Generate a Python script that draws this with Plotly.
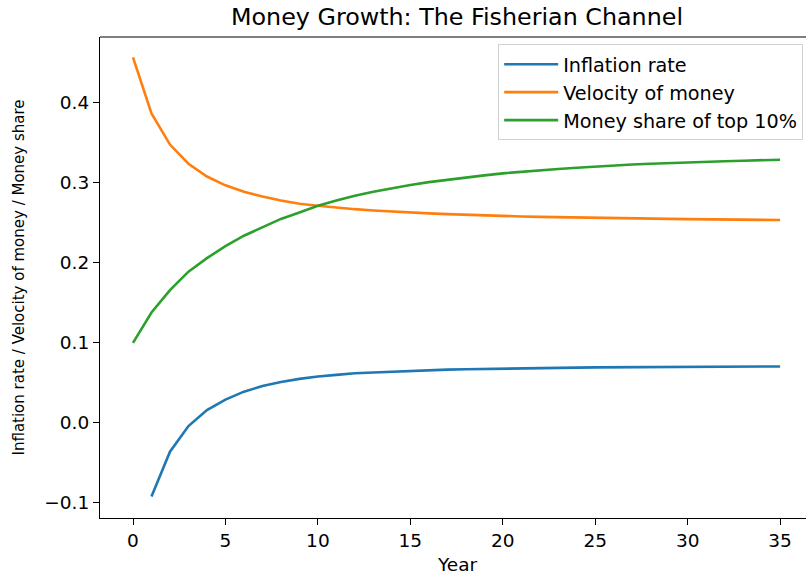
import plotly.graph_objects as go

# Simulation output: yearly path after a money-growth shock
years = list(range(36))

inflation_rate = [None, -0.092, -0.036, -0.004, 0.016, 0.029, 0.039, 0.046, 0.051, 0.055,
                  0.058, 0.060, 0.062, 0.063, 0.064, 0.065, 0.066, 0.0665, 0.067, 0.0675,
                  0.068, 0.0683, 0.0686, 0.0689, 0.0691, 0.0693, 0.0695, 0.0697, 0.0698, 0.0699,
                  0.0700, 0.0701, 0.0702, 0.0703, 0.0704, 0.0705]

velocity_of_money = [0.457, 0.387, 0.348, 0.324, 0.308, 0.297, 0.289, 0.283, 0.278, 0.274,
                     0.2715, 0.269, 0.2672, 0.2656, 0.2642, 0.263, 0.2619, 0.261, 0.2601, 0.2594,
                     0.2587, 0.2581, 0.2576, 0.2571, 0.2567, 0.2563, 0.2559, 0.2556, 0.2553, 0.255,
                     0.2547, 0.2545, 0.2542, 0.254, 0.2538, 0.2536]

money_share_top10 = [0.100, 0.138, 0.166, 0.189, 0.206, 0.221, 0.234, 0.245, 0.255, 0.263,
                     0.2715, 0.278, 0.284, 0.289, 0.2935, 0.2975, 0.301, 0.304, 0.307, 0.3095,
                     0.312, 0.314, 0.316, 0.3175, 0.319, 0.3205, 0.3218, 0.323, 0.324, 0.325,
                     0.3258, 0.3265, 0.3272, 0.3278, 0.3284, 0.329]

series_names = ["Inflation rate", "Velocity of money", "Money share of top 10%"]
series_colors = ["#1f77b4", "#ff7f0e", "#2ca02c"]

x_tick_vals = [0, 5, 10, 15, 20, 25, 30, 35]
y_tick_vals = [-0.1, 0.0, 0.1, 0.2, 0.3, 0.4]
y_tick_text = ["\u22120.1", "0.0", "0.1", "0.2", "0.3", "0.4"]

FONT = "DejaVu Sans, Verdana, sans-serif"
TICK_SIZE = 18.5
LEGEND_SIZE = 19.2
YLABEL_SIZE = 15
TITLE_SIZE = 23.8

fig = go.Figure()
for name, ys, color in zip(series_names,
                           [inflation_rate, velocity_of_money, money_share_top10],
                           series_colors):
    fig.add_trace(go.Scatter(x=years, y=ys, mode="lines", name=name,
                             line=dict(color=color, width=2.6)))

axis_common = dict(
    showgrid=False, zeroline=False,
    showline=True, linecolor="black", linewidth=1.2, mirror=False,
    ticks="outside", ticklen=6, tickwidth=1.2, tickcolor="black",
    tickfont=dict(family=FONT, size=TICK_SIZE, color="black"),
)

fig.update_layout(
    width=806, height=578,
    margin=dict(l=100, r=0, t=37, b=60),
    paper_bgcolor="white", plot_bgcolor="white",
    font=dict(family=FONT, color="black"),
    showlegend=True,
    legend=dict(
        x=0.996, y=0.985, xanchor="right", yanchor="top",
        bgcolor="rgba(255,255,255,0.8)", bordercolor="#d0d0d0", borderwidth=1,
        itemwidth=54,
        font=dict(family=FONT, size=LEGEND_SIZE, color="black"),
    ),
    xaxis=dict(range=[-1.785, 36.40], tickvals=x_tick_vals, **axis_common),
    yaxis=dict(range=[-0.119, 0.4825], tickvals=y_tick_vals, ticktext=y_tick_text,
               **axis_common),
    annotations=[
        dict(text="Money Growth: The Fisherian Channel", xref="paper", yref="paper",
             x=0.506, y=1.0, yshift=20, showarrow=False, xanchor="center", yanchor="middle",
             font=dict(family=FONT, size=TITLE_SIZE, color="black")),
        dict(text="Year", xref="paper", yref="paper", x=0.506, y=0, yshift=-46,
             showarrow=False, xanchor="center", yanchor="middle",
             font=dict(family=FONT, size=TICK_SIZE, color="black")),
        dict(text="Inflation rate / Velocity of money / Money share", xref="paper",
             yref="paper", x=0, xshift=-82, y=0.5, textangle=-90, showarrow=False,
             xanchor="center", yanchor="middle",
             font=dict(family=FONT, size=YLABEL_SIZE, color="black")),
    ],
    shapes=[
        # top spine of the axes frame
        dict(type="line", xref="paper", yref="paper", x0=0, x1=1, y0=1, y1=1,
             line=dict(color="black", width=1.2)),
    ],
)

fig.write_html("out.html")
